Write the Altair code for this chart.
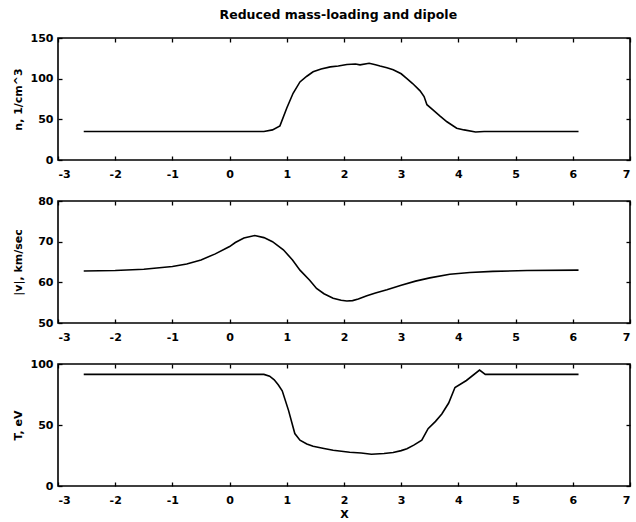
import altair as alt
import pandas as pd

# Density profile n (1/cm^3) along X
x_n = [-2.55, 0.6, 0.75, 0.88, 1.0, 1.11, 1.23, 1.35, 1.46, 1.6, 1.76, 1.9, 2.05,
       2.2, 2.28, 2.44, 2.55, 2.63, 2.75, 2.86, 3.0, 3.1, 3.2, 3.33, 3.4, 3.45,
       3.55, 3.68, 3.8, 3.97, 4.1, 4.3, 4.45, 6.1]
n_vals = [35, 35, 37, 42, 64, 82, 96, 103, 108.5, 112, 114.5, 115.5, 117.5,
          118, 117, 119, 117, 115.5, 113.5, 111, 106, 100, 94, 85, 78, 68,
          62, 54, 47, 39, 37, 34.5, 35, 35]

# Flow speed |v| (km/sec) along X
x_v = [-2.55, -2.0, -1.5, -1.0, -0.75, -0.5, -0.25, 0.0, 0.1, 0.25, 0.44, 0.6,
       0.75, 0.94, 1.1, 1.23, 1.4, 1.52, 1.65, 1.81, 1.95, 2.05, 2.15, 2.25,
       2.4, 2.55, 2.75, 3.0, 3.25, 3.5, 3.85, 4.2, 4.6, 5.2, 6.1]
v_vals = [62.8, 62.9, 63.2, 63.9, 64.5, 65.5, 67.0, 68.8, 69.8, 70.9, 71.5, 71.0,
          70.0, 68.0, 65.5, 63.0, 60.5, 58.5, 57.2, 56.1, 55.6, 55.4, 55.5, 55.9,
          56.7, 57.4, 58.2, 59.3, 60.3, 61.1, 62.0, 62.4, 62.7, 62.9, 63.0]

# Temperature T (eV) along X
x_T = [-2.55, 0.6, 0.7, 0.78, 0.85, 0.92, 1.03, 1.14, 1.23, 1.35, 1.46, 1.65,
       1.81, 2.1, 2.3, 2.48, 2.7, 2.86, 3.0, 3.1, 3.22, 3.36, 3.47, 3.6, 3.71,
       3.83, 3.94, 4.14, 4.37, 4.47, 6.1]
T_vals = [91.5, 91.5, 90, 87, 83, 78, 62, 43, 37.5, 34.5, 32.5, 30.8,
          29.3, 27.6, 27, 26, 26.6, 27.4, 29, 30.6, 33.5, 37.5, 47, 53, 59,
          68, 80.7, 86.5, 95, 91.5, 91.5]

x_ticks = list(range(-3, 8))
FONT = "DejaVu Sans"
W, H = 572, 122
GAP = 41
TICK = 4


def panel(xs, ys, y_title, y_domain, y_ticks, x_title=None):
    df = pd.DataFrame({"x": xs, "y": ys})
    xscale = alt.Scale(domain=[-3, 7], nice=False, zero=False)
    yscale = alt.Scale(domain=y_domain, nice=False, zero=False)

    x_kw = dict(values=x_ticks, tickSize=TICK, offset=-TICK, domain=False,
                grid=False, labelPadding=8, labelExpr="datum.value + ''")
    if x_title:
        x_axis = alt.Axis(title=x_title, titlePadding=3, **x_kw)
    else:
        x_axis = alt.Axis(title=None, **x_kw)
    y_axis = alt.Axis(values=y_ticks, tickSize=TICK, offset=-TICK, domain=False,
                      grid=False, labelPadding=5, title=y_title, titleX=-39)

    line = alt.Chart(df).mark_line(color="black", strokeWidth=1.6).encode(
        x=alt.X("x:Q", scale=xscale, axis=x_axis),
        y=alt.Y("y:Q", scale=yscale, axis=y_axis),
    )
    # invisible copy that carries the mirrored top/right tick marks
    mirror = alt.Chart(df).mark_line(opacity=0).encode(
        x=alt.X("x:Q", scale=xscale,
                axis=alt.Axis(orient="top", values=x_ticks, tickSize=TICK,
                              offset=-TICK, labels=False, domain=False,
                              grid=False, title=None)),
        y=alt.Y("y:Q", scale=yscale,
                axis=alt.Axis(orient="right", values=y_ticks, tickSize=TICK,
                              offset=-TICK, labels=False, domain=False,
                              grid=False, title=None)),
    )
    return alt.layer(line, mirror).resolve_axis(
        x="independent", y="independent"
    ).properties(width=W, height=H)


p1 = panel(x_n, n_vals, "n, 1/cm^3", [0, 150], [0, 50, 100, 150])
p2 = panel(x_v, v_vals, "|v|, km/sec", [50, 80], [50, 60, 70, 80])
p3 = panel(x_T, T_vals, "T, eV", [0, 100], [0, 50, 100], x_title="X")

# fixed placement: the first frame starts at (left, top) on a 636x522 page
left, top = 58, 38
chart = alt.vconcat(p1, p2, p3, spacing=GAP, bounds="flush").properties(
    title=alt.TitleParams("Reduced mass-loading and dipole", font=FONT,
                          fontSize=12.5, fontWeight="bold", color="black",
                          anchor="middle", dx=17, offset=10),
    autosize=alt.AutoSizeParams(type="none"),
    padding={"left": left, "top": top, "right": 636 - left - W,
             "bottom": 522 - top},
).configure_view(
    stroke="black", strokeWidth=1.6
).configure_axis(
    labelFont=FONT, labelFontSize=11, labelFontWeight="bold", labelColor="black",
    titleFont=FONT, titleFontSize=11, titleFontWeight="bold", titleColor="black",
    tickColor="black", tickWidth=1.3
)

chart.save("out.html", embed_options={"renderer": "svg", "actions": False})
